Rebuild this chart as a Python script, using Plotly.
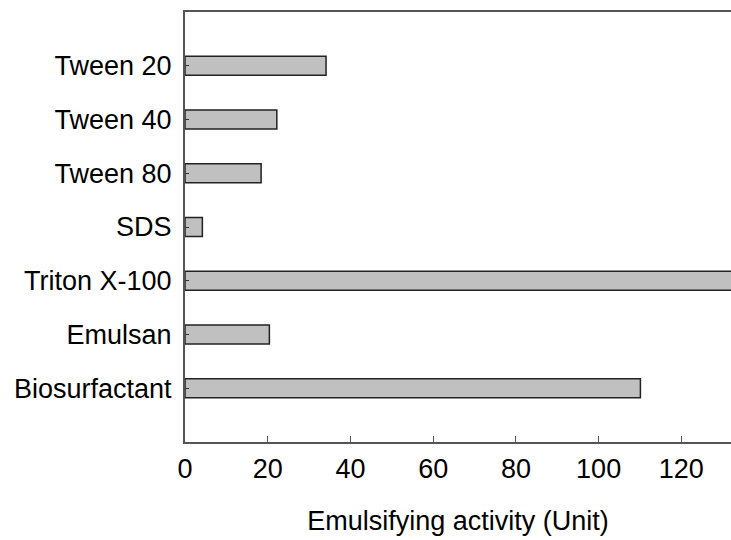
import plotly.graph_objects as go

categories = ["Biosurfactant", "Emulsan", "Triton X-100", "SDS", "Tween 80", "Tween 40", "Tween 20"]
activity = [110.1, 20.4, 150, 4.2, 18.4, 22.2, 34.1]
x_ticks = [0, 20, 40, 60, 80, 100, 120]

fig = go.Figure(go.Bar(
    y=categories, x=activity, orientation="h",
    width=0.35,
    marker=dict(color="#c0c0c0", line=dict(color="#222222", width=1.5)),
))

font = dict(family="Liberation Sans, Arial, sans-serif", size=27, color="black")
fig.update_layout(
    width=731, height=540,
    margin=dict(l=185, r=0, t=12, b=98),
    plot_bgcolor="white", paper_bgcolor="white",
    font=font, showlegend=False,
    xaxis=dict(
        range=[0, 132.0], tickvals=x_ticks, ticks="inside", ticklen=6,
        tickcolor="#555555", showline=True, linecolor="#555555", linewidth=2,
        mirror=True, showgrid=False, zeroline=False,
        ticklabelstandoff=2,
        title=dict(text="Emulsifying activity (Unit)", standoff=28, font=font),
    ),
    yaxis=dict(
        categoryorder="array", categoryarray=categories, range=[-1, 7],
        ticks="inside", ticklen=4, tickcolor="#333333",
        showline=True, linecolor="#555555", linewidth=2, showgrid=False,
        zeroline=False, ticklabelstandoff=6,
    ),
)
fig.write_html("out.html")
